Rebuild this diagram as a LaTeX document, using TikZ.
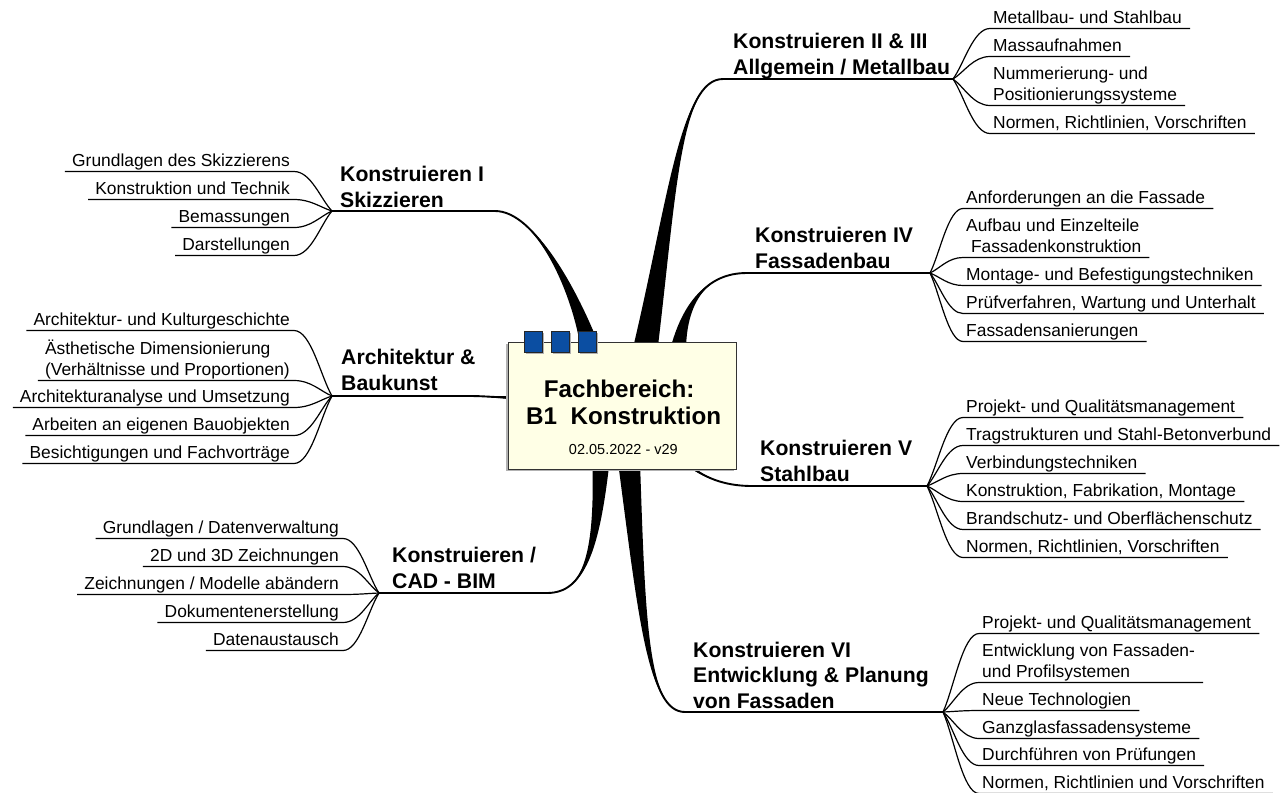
\documentclass[tikz,border=0pt]{standalone}
\usepackage{fontspec}
\setmainfont{Liberation Sans}
\usetikzlibrary{calc,shadows}

\definecolor{cream}{HTML}{FFFFE6}
\definecolor{tabblue}{HTML}{0B4EA2}

\newcommand\leaffont{\fontsize{17.4pt}{21pt}\selectfont}
\newcommand\headfont{\bfseries\fontsize{21.2pt}{25.5pt}\selectfont}
\newcommand\titlefont{\bfseries\fontsize{24.2pt}{27pt}\selectfont}
\newcommand\datefont{\fontsize{14.5pt}{17pt}\selectfont}

% lines stacked left-aligned / centred; the box baseline is the last line
\newcommand\stackL[1]{\vbox{\halign{##\hfil\cr#1\crcr}}}
\newcommand\stackC[1]{\vbox{\halign{\hfil##\hfil\cr#1\crcr}}}

% tapered main branch: base, half-width vector, control 1, control 2, thin end
\newcommand\limb[5]{%
  \fill[limbfill] ($(#1)-(#2)$) .. controls ($(#3)-0.3*(#2)$) and (#4) .. (#5)
    .. controls (#4) and ($(#3)+0.3*(#2)$) .. ($(#1)+(#2)$) -- cycle;
  \draw[stem] (#1) .. controls (#3) and (#4) .. (#5);}

% underlined topic to the right of its junction: name, junction, baseline, text
\newcommand\leafR[4]{%
  \node[leaf, anchor=base west] (#1) at (#3) {#4};
  \coordinate (#1u) at ($(#1.base west)+(-3,5.5)$);
  \draw[twig] ($(#1.base east)+(8,5.5)$) -- (#1u)
    .. controls ($(#1u)!0.45!(#2 |- #1u)$) and ($(#2)!0.3!(#1u)$) .. (#2);}

% underlined topic to the left of its junction
\newcommand\leafL[4]{%
  \node[leaf, anchor=base east] (#1) at (#3) {#4};
  \coordinate (#1u) at ($(#1.base east)+(4,5.5)$);
  \draw[twig] ($(#1.base west)+(-7,5.5)$) -- (#1u)
    .. controls ($(#1u)!0.45!(#2 |- #1u)$) and ($(#2)!0.3!(#1u)$) .. (#2);}

\tikzset{
  limbfill/.style={fill=black},
  stem/.style={line width=1.9pt, line cap=round},
  twig/.style={line width=1.2pt, line join=round},
  leaf/.style={inner sep=0pt, font=\leaffont},
  head/.style={inner sep=0pt, font=\headfont},
  hub/.style={draw=black!80, line width=0.8pt, fill=cream, inner sep=0pt,
    minimum width=228pt, minimum height=127pt,
    drop shadow={shadow xshift=-2pt, shadow yshift=-2pt, fill=gray!60, opacity=1}},
  tab/.style={draw=black!85, line width=0.7pt, fill=tabblue, inner sep=0pt,
    minimum width=18pt, minimum height=21pt,
    drop shadow={shadow xshift=1.5pt, shadow yshift=-2pt, fill=gray!60, opacity=1}},
}

\begin{document}
\begin{tikzpicture}[x=1pt, y=-1pt]
\useasboundingbox (0,0) rectangle (1286,793);
\fill[white] (0,0) rectangle (1286,793);
\clip (0,0) rectangle (1286,793);

% junctions where the topic lines fan out
\coordinate (j1) at (953,79);
\coordinate (j2) at (930,273);
\coordinate (j3) at (927,486);
\coordinate (j4) at (943,712);
\coordinate (j5) at (332,211);
\coordinate (j6) at (332,396);
\coordinate (j7) at (379,593);

% thin ends of the main branches
\coordinate (s1) at (723,79);
\coordinate (s2) at (747,273);
\coordinate (s3) at (752,486);
\coordinate (s4) at (685,712);
\coordinate (s5) at (495,211);
\coordinate (s6) at (470,396);
\coordinate (s7) at (547,593);

% main branches leaving the central box
\limb{645,350}{12.5,0}{672,200}{680,79}{s1}
\limb{678,350}{8,0}{684,305}{705,273}{s2}
\limb{655,430}{9,0}{680,462}{705,486}{s3}
\limb{629,462}{11,0}{642,620}{648,712}{s4}
\limb{591,350}{10,0}{575,290}{535,211}{s5}
\limb{515,397.5}{0,2}{495,397.5}{485,396}{s6}
\limb{601,462}{8.5,0}{597,550}{585,593}{s7}

\draw[stem] (s1) -- (j1);
\draw[stem] (s2) -- (j2);
\draw[stem] (s3) -- (j3);
\draw[stem] (s4) -- (j4);
\draw[stem] (s5) -- (j5);
\draw[stem] (s6) -- (j6);
\draw[stem] (s7) -- (j7);

% central box
\node[hub] (hub) at (622,405.5) {};
\node[tab] (t1) at (533,341.5) {};
\node[tab] (t2) at (560.5,341.5) {};
\node[tab] (t3) at (587,341.5) {};
\node[inner sep=0pt, font=\titlefont, anchor=base] (title) at (623.7,424)
  {\stackC{Fachbereich:\kern9pt\cr B1\ \ Konstruktion}};
\node[inner sep=0pt, font=\datefont, anchor=base] (date) at (623.4,454) {02.05.2022 - v29};

% branch headings
\node[head, anchor=base west] (h1) at (733,74) {\stackL{Konstruieren II \& III\cr Allgemein / Metallbau}};
\node[head, anchor=base west] (h2) at (755,268) {\stackL{Konstruieren IV\cr Fassadenbau}};
\node[head, anchor=base west] (h3) at (760,481) {\stackL{Konstruieren V\cr Stahlbau}};
\node[head, anchor=base west] (h4) at (693,708) {\stackL{Konstruieren VI\cr Entwicklung \& Planung\cr von Fassaden}};
\node[head, anchor=base west] (h5) at (340,207) {\stackL{Konstruieren I\cr Skizzieren}};
\node[head, anchor=base west] (h6) at (341,390) {\stackL{Architektur \&\cr Baukunst}};
\node[head, anchor=base west] (h7) at (392,588) {\stackL{Konstruieren /\cr CAD - BIM}};

% Konstruieren II & III
\leafR{m1}{j1}{993,23}{Metallbau- und Stahlbau}
\leafR{m2}{j1}{993,51}{Massaufnahmen}
\leafR{m3}{j1}{993,100}{\stackL{Nummerierung- und\cr Positionierungssysteme}}
\leafR{m4}{j1}{993,128}{Normen, Richtlinien, Vorschriften}

% Konstruieren IV
\leafR{f1}{j2}{966,203}{Anforderungen an die Fassade}
\leafR{f2}{j2}{966,252}{\stackL{Aufbau und Einzelteile\cr\kern4.8pt Fassadenkonstruktion}}
\leafR{f3}{j2}{966,280}{Montage- und Befestigungstechniken}
\leafR{f4}{j2}{966,308}{Prüfverfahren, Wartung und Unterhalt}
\leafR{f5}{j2}{966,336}{Fassadensanierungen}

% Konstruieren V
\leafR{st1}{j3}{966,412}{Projekt- und Qualitätsmanagement}
\leafR{st2}{j3}{966,440}{Tragstrukturen und Stahl-Betonverbund}
\leafR{st3}{j3}{966,468}{Verbindungstechniken}
\leafR{st4}{j3}{966,496}{Konstruktion, Fabrikation, Montage}
\leafR{st5}{j3}{966,524}{Brandschutz- und Oberflächenschutz}
\leafR{st6}{j3}{966,552}{Normen, Richtlinien, Vorschriften}

% Konstruieren VI
\leafR{fv1}{j4}{982,628}{Projekt- und Qualitätsmanagement}
\leafR{fv2}{j4}{982,677}{\stackL{Entwicklung von Fassaden-\cr und Profilsystemen}}
\leafR{fv3}{j4}{982,705}{Neue Technologien}
\leafR{fv4}{j4}{982,733}{Ganzglasfassadensysteme}
\leafR{fv5}{j4}{982,760}{Durchführen von Prüfungen}
\leafR{fv6}{j4}{982,788}{Normen, Richtlinien und Vorschriften}

% Konstruieren I
\leafL{sk1}{j5}{290,166}{Grundlagen des Skizzierens}
\leafL{sk2}{j5}{290,194}{Konstruktion und Technik}
\leafL{sk3}{j5}{290,222}{Bemassungen}
\leafL{sk4}{j5}{290,250}{Darstellungen}

% Architektur & Baukunst
\leafL{ar1}{j6}{290,325}{Architektur- und Kulturgeschichte}
\leafL{ar2}{j6}{290,375}{\stackL{Ästhetische Dimensionierung\cr (Verhältnisse und Proportionen)}}
\leafL{ar3}{j6}{290,402}{Architekturanalyse und Umsetzung}
\leafL{ar4}{j6}{290,430}{Arbeiten an eigenen Bauobjekten}
\leafL{ar5}{j6}{290,458}{Besichtigungen und Fachvorträge}

% Konstruieren / CAD - BIM
\leafL{cad1}{j7}{339,533}{Grundlagen / Datenverwaltung}
\leafL{cad2}{j7}{339,561}{2D und 3D Zeichnungen}
\leafL{cad3}{j7}{339,589}{Zeichnungen / Modelle abändern}
\leafL{cad4}{j7}{339,617}{Dokumentenerstellung}
\leafL{cad5}{j7}{339,645}{Datenaustausch}
\end{tikzpicture}
\end{document}
